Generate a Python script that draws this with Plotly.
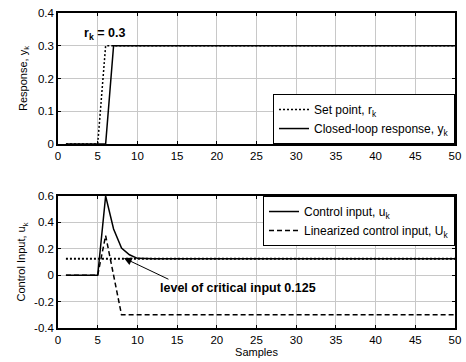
import plotly.graph_objects as go

samples = list(range(1, 51))
set_point = [0.0]*5 + [0.3]*45
response = [0.0]*6 + [0.3]*44
control_u = [0.0]*5 + [0.6, 0.35, 0.205, 0.155, 0.128] + [0.125]*40
linear_U = [0.0]*5 + [0.3, 0.0] + [-0.3]*43
critical = [0.125]*50

x_ticks = [0, 5, 10, 15, 20, 25, 30, 35, 40, 45, 50]
y1_ticks = [0, 0.1, 0.2, 0.3, 0.4]
y1_labels = ["0", "0.1", "0.2", "0.3", "0.4"]
y2_ticks = [-0.4, -0.2, 0, 0.2, 0.4, 0.6]
y2_labels = ["-0.4", "-0.2", "0", "0.2", "0.4", "0.6"]

FONT = "Liberation Sans, Arial, sans-serif"
fig = go.Figure()

fig.add_trace(go.Scatter(x=samples, y=set_point, mode="lines", name="Set point, r<sub>k</sub>",
                         line=dict(color="black", width=1.5, dash="2px,2px"), xaxis="x", yaxis="y", legend="legend"))
fig.add_trace(go.Scatter(x=samples, y=response, mode="lines", name="Closed-loop response, y<sub>k</sub>",
                         line=dict(color="black", width=1.5), xaxis="x", yaxis="y", legend="legend"))

fig.add_trace(go.Scatter(x=samples, y=critical, mode="lines", showlegend=False,
                         line=dict(color="black", width=2, dash="2px,2px"), xaxis="x2", yaxis="y2"))
fig.add_trace(go.Scatter(x=samples, y=control_u, mode="lines", name="Control input, u<sub>k</sub>",
                         line=dict(color="black", width=1.5), xaxis="x2", yaxis="y2", legend="legend2"))
fig.add_trace(go.Scatter(x=samples, y=linear_U, mode="lines", name="Linearized control input, U<sub>k</sub>",
                         line=dict(color="black", width=1.5, dash="5px,3px"), xaxis="x2", yaxis="y2", legend="legend2"))

axis_common = dict(showline=True, linecolor="black", linewidth=1.5, mirror="ticks", ticks="inside",
                   ticklen=3, tickcolor="black", showgrid=True, gridcolor="#c8c8c8", gridwidth=1,
                   zeroline=False, tickfont=dict(family=FONT, size=11.5, color="black"))

fig.update_layout(
    width=466, height=362,
    margin=dict(l=58, r=5, t=13, b=34),
    plot_bgcolor="white", paper_bgcolor="white",
    font=dict(family=FONT, size=11, color="black"),
    xaxis=dict(axis_common, domain=[0, 1], range=[0, 50], tickvals=x_ticks, anchor="y"),
    yaxis=dict(axis_common, domain=[0.584, 1], range=[0, 0.4], tickvals=y1_ticks, ticktext=y1_labels,
               anchor="x",
               title=dict(text="Response, y<sub>k</sub>", font=dict(family=FONT, size=11), standoff=8)),
    xaxis2=dict(axis_common, domain=[0, 1], range=[0, 50], tickvals=x_ticks, anchor="y2",
                title=dict(text="Samples", font=dict(family=FONT, size=11), standoff=3)),
    yaxis2=dict(axis_common, domain=[0, 0.419], range=[-0.4, 0.6], tickvals=y2_ticks, ticktext=y2_labels,
                anchor="x2",
                title=dict(text="Control Input, u<sub>k</sub>", font=dict(family=FONT, size=11), standoff=6)),
    legend=dict(x=1, y=0.584, xanchor="right", yanchor="bottom", bgcolor="white",
                bordercolor="black", borderwidth=1, font=dict(family=FONT, size=12),
                tracegroupgap=0, itemwidth=30),
    legend2=dict(x=1, y=0.419, xanchor="right", yanchor="top", bgcolor="white",
                 bordercolor="black", borderwidth=1, font=dict(family=FONT, size=12),
                 tracegroupgap=0, itemwidth=30),
    annotations=[
        dict(x=8.7, y=0.337, xref="x", yref="y", text="<b>r<sub>k</sub> = 0.3</b>", showarrow=False,
             xanchor="right", font=dict(family=FONT, size=12.5)),
        dict(x=12.6, y=-0.097, xref="x2", yref="y2", text="<b>level of critical input 0.125</b>",
             showarrow=False, xanchor="left", font=dict(family=FONT, size=12.5)),
        dict(x=8.3, y=0.13, xref="x2", yref="y2", ax=14.1, ay=-0.036, axref="x2", ayref="y2",
             text="", showarrow=True, arrowhead=2, arrowsize=1.6, arrowwidth=1, arrowcolor="black"),
    ],
)

fig.write_html("out.html")
